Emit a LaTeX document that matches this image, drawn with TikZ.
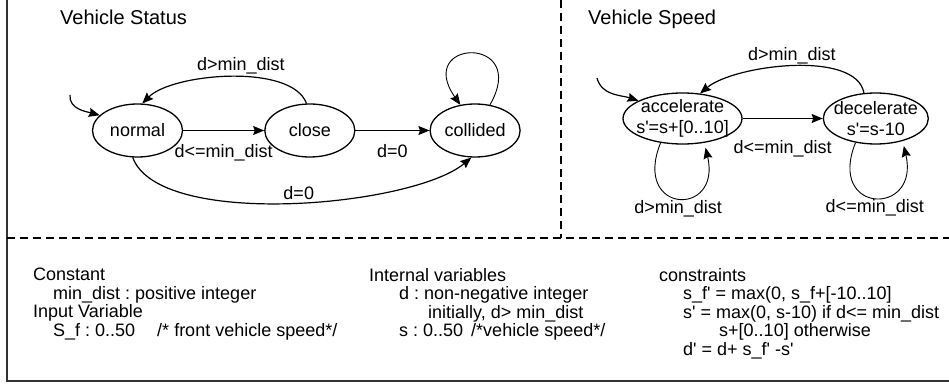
\documentclass[tikz,border=0pt]{standalone}
\usepackage{fontspec}
\setmainfont{Liberation Sans}[Ligatures=TeXOff]
\usetikzlibrary{arrows.meta, positioning, shapes.geometric}
\tikzset{
    >=Stealth,
    font=\fontsize{18}{21}\selectfont,
    fsm_state/.style={
        ellipse,
        draw=black,
        line width=1.3pt,
        minimum width=90pt,
        minimum height=53pt,
        inner sep=-5pt,
        align=center
    },
    fsm_arrow/.style={
        -{Stealth[length=11pt, width=9pt, inset=1.5pt]},
        line width=1.2pt
    },
    fsm_loop/.style={
        -{Stealth[length=11pt, width=9pt, inset=1.5pt]},
        line width=0.9pt
    },
    fsm_label/.style={
        inner sep=2pt
    },
    fsm_title/.style={
        anchor=base west,
        inner sep=0pt,
        font=\fontsize{20}{24}\selectfont
    },
    fsm_divider/.style={
        line width=1.2pt,
        dash pattern=on 8pt off 5pt
    },
    fsm_frame/.style={
        line width=1.4pt,
        draw=black!80
    },
    fsm_decl/.style={
        anchor=north west,
        inner sep=0pt,
        align=left,
        font=\fontsize{18}{18.5}\selectfont
    }
}

\begin{document}
\frenchspacing
\begin{tikzpicture}[x=1pt, y=-1pt]
\useasboundingbox (0,0) rectangle (949,385);

% --- Frame and dividers ---
\draw[fsm_frame] (7,0) -- (7,381) -- (949,381);
\draw[fsm_divider] (7,238) -- (949,238);
\draw[fsm_divider] (561,0) -- (561,238);

% --- Vehicle Status ---
\node[fsm_title] (titleStatus) at (60,25) {Vehicle Status};
\node[fsm_state] (normal) at (137.5,130.5) {normal};
\node[fsm_state, right=81pt of normal] (close) {close};
\node[fsm_state, right=74pt of close] (collided) {collided};
\coordinate (initStatus) at (70,95);

\draw[fsm_arrow] (initStatus) to[out=265, in=165] (normal.158);
\draw[fsm_arrow] (normal) -- node[fsm_label, below=11pt] (lblNear) {d<=min\_dist} (close);
\draw[fsm_arrow] (close) -- node[fsm_label, below=11pt] (lblHit) {d=0} (collided);
\draw[fsm_arrow] (close.97) to[out=110, in=45, looseness=0.67] node[fsm_label, above, pos=0.45] (lblFar) {d>min\_dist} (normal.80);
\draw[fsm_arrow] (normal.260) to[out=290, in=220, looseness=0.58] node[fsm_label, above, pos=0.52] (lblDirect) {d=0} (collided.262);
\draw[fsm_loop] (collided.60) to[out=60, in=125, looseness=7] (collided.120);

% --- Vehicle Speed ---
\node[fsm_title] (titleSpeed) at (588,25) {Vehicle Speed};
\node[fsm_state, minimum width=119pt, minimum height=51pt] (accelerate) at (682.5,118.5) {accelerate\\s'=s+[0..10]};
\node[fsm_state, minimum width=105pt, minimum height=51pt, right=80pt of accelerate] (decelerate) {decelerate\\s'=s-10};
\coordinate (initSpeed) at (597,78);

\draw[fsm_arrow] (initSpeed) to[out=285, in=162] (accelerate.158);
\draw[fsm_arrow] (accelerate) -- node[fsm_label, below=19pt] (lblSlow) {d<=min\_dist} (decelerate);
\draw[fsm_arrow] (decelerate.115) to[out=100, in=40, looseness=0.69] node[fsm_label, above] (lblFast) {d>min\_dist} (accelerate.55);
\draw[fsm_loop, shorten >=5pt] (accelerate.228) to[out=248, in=283, looseness=4.5] node[fsm_label, below] (lblKeepFast) {d>min\_dist} (accelerate.312);
\draw[fsm_loop, shorten >=5pt] (decelerate.230) to[out=248, in=283, looseness=4.2] node[fsm_label, below] (lblKeepSlow) {d<=min\_dist} (decelerate.320);

% --- Declarations ---
\node[fsm_decl] (declConst) at (33,268) {Constant\\\hspace*{20pt}min\_dist : positive integer\\Input Variable\\\hspace*{20pt}S\_f : 0..50\hspace{22pt}/* front vehicle speed*/};
\node[fsm_decl] (declInternal) at (369,268) {Internal variables\\\hspace*{30pt}d : non-negative integer\\\hspace*{59pt}initially, d> min\_dist\\\hspace*{30pt}s : 0..50\hspace{8pt}/*vehicle speed*/};
\node[fsm_decl] (declRules) at (659,268) {constraints\\\hspace*{24pt}s\_f' = max(0, s\_f+[-10..10]\\\hspace*{24pt}s' = max(0, s-10) if d<= min\_dist\\\hspace*{60pt}s+[0..10] otherwise\\\hspace*{24pt}d' = d+ s\_f' -s'};

\end{tikzpicture}
\end{document}
